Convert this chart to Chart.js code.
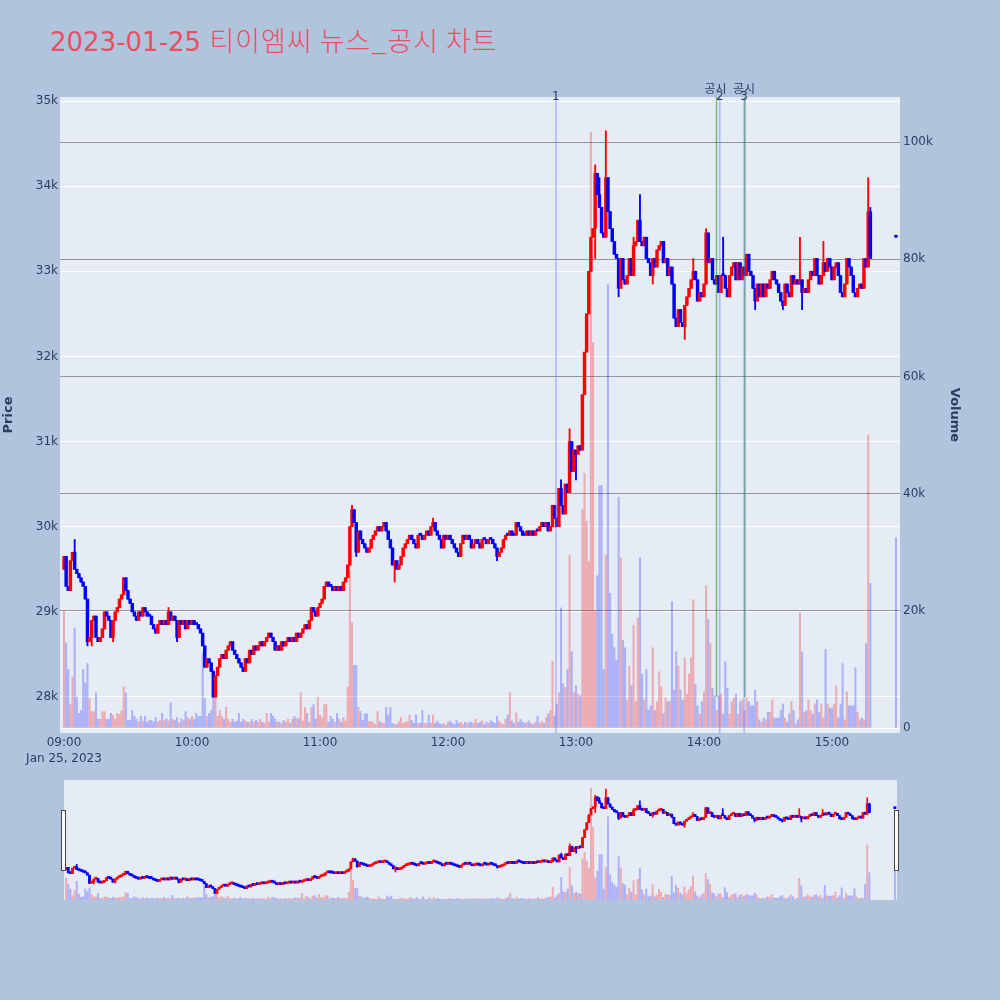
<!DOCTYPE html>
<html>
<head>
<meta charset="utf-8">
<script src="https://cdn.jsdelivr.net/npm/chart.js@4.4.1/dist/chart.umd.min.js"></script>
<style>
  body { margin: 0; background: #B0C4DE; width: 1000px; height: 1000px; overflow: hidden; position: relative; }
  #title { position: absolute; left: 50px; top: 25px; font-size: 26px; line-height: 30px; color: #EB4F62;
           font-family: "DejaVu Sans", "Noto Sans CJK KR", sans-serif; white-space: nowrap; }
  #title .ko { font-family: "Noto Sans CJK KR", sans-serif; font-weight: 300; font-size: 27px; letter-spacing: 1px; }
  #main { position: absolute; left: 0; top: 0; }
  #slider { position: absolute; left: 0; top: 770px; }
</style>
</head>
<body>
<div id="title">2023-01-25 <span class="ko">티이엠씨 뉴스_공시 차트</span></div>
<canvas id="main" width="1000" height="780"></canvas>
<canvas id="slider" width="1000" height="140"></canvas>
<script>
// one candle per minute from 09:00 (minute 0); open = previous close
var firstOpen = 29500;
var closes = [
  29650,29300,29250,29600,29700,29500,29450,29400,29350,29300,
  29150,28650,28700,28900,28950,28700,28650,28700,28800,29000,
  28950,28900,28700,28900,29000,29050,29150,29200,29400,29250,
  29150,29100,29000,28950,28900,29000,28950,29050,29000,28950,
  28950,28850,28800,28750,28850,28900,28850,28900,28850,29000,
  28900,28950,28900,28700,28900,28850,28900,28800,28900,28850,
  28900,28850,28850,28800,28750,28600,28350,28450,28400,28300,
  28000,28250,28350,28450,28500,28450,28550,28600,28650,28550,
  28500,28450,28400,28350,28300,28450,28400,28550,28500,28600,
  28550,28600,28650,28600,28650,28700,28750,28700,28650,28550,
  28600,28550,28650,28600,28650,28700,28650,28700,28650,28750,
  28700,28750,28800,28850,28800,28900,29050,29000,28950,29050,
  29100,29150,29300,29350,29300,29300,29250,29300,29250,29300,
  29250,29350,29400,29550,30000,30200,30050,29700,29950,29850,
  29800,29750,29700,29750,29850,29900,29950,30000,29950,30000,
  30050,29950,29850,29750,29550,29600,29500,29550,29650,29750,
  29800,29850,29900,29850,29800,29750,29900,29900,29850,29900,
  29950,29900,30000,30050,29950,29900,29850,29750,29900,29850,
  29900,29850,29800,29750,29700,29650,29800,29900,29850,29900,
  29850,29750,29800,29850,29800,29750,29850,29850,29800,29850,
  29850,29800,29750,29650,29700,29750,29850,29900,29900,29950,
  29900,29900,30050,30000,29950,29900,29900,29950,29900,29950,
  29900,29950,29950,30000,30050,30000,30050,29950,30000,30250,
  30100,30000,30450,30250,30150,30500,30400,31000,30650,30900,
  30850,30950,30900,31550,32050,32500,33000,33400,33500,34150,
  33900,33750,33450,33400,34100,33700,33500,33350,33200,33150,
  32800,33150,32900,32850,32950,33150,32950,33300,33350,33600,
  33350,33300,33400,33150,33100,32950,33150,33050,33250,33300,
  33350,33100,33150,32950,33050,32850,32450,32350,32550,32400,
  32350,32600,32700,32800,32900,33000,32900,32650,32750,32700,
  32850,33450,33100,33150,32900,32850,32950,32750,32950,32950,
  32800,32700,32950,33050,33100,32900,33100,32900,33050,32950,
  33200,33000,32950,32800,32650,32850,32700,32850,32700,32850,
  32800,32900,33000,32900,32850,32750,32650,32600,32850,32750,
  32700,32950,32850,32900,32850,32900,32750,32800,32750,32900,
  33000,32950,33150,32950,32850,32950,33100,33000,33150,33050,
  32900,33050,33100,32950,32750,32700,32850,33150,33050,32950,
  32750,32700,32800,32850,32800,33150,33050,33700,33150
];
// volume per minute, thousands of shares
var volumesK = [
  20,14.5,10,4,8.7,17,5.3,2.5,3,10,
  7.7,11,5,2.8,2.8,6,1.5,1.5,2.8,2.8,
  1.5,1.5,2.5,2.2,1.5,2.5,2.3,3,7,6,
  1.3,1.3,3,2,1.5,1,2,1.2,2,1,
  1.3,1.3,1,1.8,1,1.3,2.5,1.3,1.6,1.2,
  4.3,1.5,1.3,1.8,0.9,1.6,1.3,2.8,1.8,1.5,
  2,1.5,2.5,2,2,12.8,5,2,2.5,3,
  10,6.5,2,3,2,1.5,3.5,1.5,1,1.5,
  1,1.2,2.5,1,1.5,1.2,1,1,1.5,1,
  1.3,1,1.5,1,0.8,2.5,1,2.5,2,1.5,
  1,1,0.8,1.3,1,1.5,0.8,1.5,2,1.6,
  1.6,6,1.2,3.5,2.5,1,3.5,4,1.5,5.2,
  2.2,1.8,4,4,1,2,1.5,1,2.5,1.5,
  1,1.8,1.2,7,27,18,10.7,10.7,3.5,2.8,
  1.3,2.4,2.4,1.1,1.1,0.9,0.6,2.8,1.1,0.9,
  0.8,3.5,2.2,3.5,0.8,0.6,0.6,1.1,1.8,0.8,
  1,1.1,2.2,1.3,0.8,2.2,0.8,0.8,3,0.8,
  0.8,2.2,0.8,2.2,0.8,1.2,0.8,0.6,0.8,0.5,
  1,1.2,0.8,0.6,1.3,0.8,1,0.6,1,0.8,
  1,1,0.8,1.5,0.8,1,1.2,0.6,1,0.8,
  1.3,1,0.8,2,1.2,0.8,0.6,1.5,2.2,6,
  1.2,0.8,2.6,1,1.5,1,0.8,1,1.2,0.8,
  0.6,1,2,0.8,1.2,0.8,1.8,2.4,3,11.4,
  2,4,6,20.5,7.5,6.9,10,29.5,13,6,
  7.2,5.8,5.5,37.3,43.5,35.3,28.4,101.7,65.8,20,
  26,41.3,41.4,10,29.5,75.7,23,16,13.7,11.6,
  39.4,29,15,13.7,4.8,10.6,7.2,17.5,4.5,18.8,
  29,9.2,4.8,10,3,3.8,13.7,3,4.5,9.6,
  7,2.4,5.1,4.5,4.5,21.6,6.5,13,10.6,6.5,
  4.8,12,5.8,9.2,12,21.9,7.5,3.8,2.4,4.5,
  6.2,24.3,18.5,14.4,6.8,5.5,3,5.5,5.8,2.4,
  11.3,6.8,2.4,4.5,5.1,5.8,2.4,4.5,4.8,3,
  5.1,4.5,3.8,3.8,6.5,4.5,1.4,1,1.7,1.4,
  2.7,2.7,4.8,1.7,1.7,1.7,3,4.1,1.7,1,
  2.4,4.5,3,0.7,1.4,19.7,13,2.7,3,4.8,
  3,2.4,4.1,4.8,2.7,4.1,1.7,13.4,4.1,3.4,
  3.4,4.1,7.2,1.7,4.1,11,1.4,6.2,3.8,3.8,
  3.8,10.3,2.7,1.4,1.7,1.4,14.4,50,24.7
];
// wick extremes beyond the bodies (minute, price)
var wickMinutes = [5,11,13,23,49,53,135,137,155,173,203,233,237,240,249,249,251,254,260,267,270,276,291,295,301,309,324,337,345,346,356,377,378];
var wickPrices  = [29850,28600,28600,28650,29050,28650,30250,29650,29350,30100,29600,30550,31150,30550,34250,33150,34100,34650,32700,33400,33900,32850,32200,33150,33500,33400,32550,32550,33400,32550,33350,34100,33750];
// closing auction 15:30
var auctionMinute = 390, auctionPrice = 33400, auctionVolumeK = 32.5;

var hourTicks = [0, 60, 120, 180, 240, 300, 360];
var hourLabels = ['09:00', '10:00', '11:00', '12:00', '13:00', '14:00', '15:00'];
var dateLabel = 'Jan 25, 2023';
var priceTicks = [28000, 29000, 30000, 31000, 32000, 33000, 34000, 35000];
var volumeTicks = [0, 20000, 40000, 60000, 80000, 100000];
var eventMinutes = [230.6, 307.4, 318.8];
var eventLabels = ['1', '2', '3'];
var noticeMinutes = [305.9, 319.2];
var noticeLabels = ['공시', '공시'];

var UP = '#FF0000', DOWN = '#0000FF';
var UP_VOL = 'rgba(255,0,0,0.28)', DOWN_VOL = 'rgba(0,0,255,0.25)';
var FONT = '"DejaVu Sans", "Noto Sans CJK KR", sans-serif';
var TEXT = '#2a3f5f';

var candles = closes.map(function (c, i) {
  var o = i === 0 ? firstOpen : closes[i - 1];
  return { m: i, o: o, c: c, h: Math.max(o, c), l: Math.min(o, c), v: volumesK[i] * 1000 };
});
wickMinutes.forEach(function (m, k) {
  candles[m].h = Math.max(candles[m].h, wickPrices[k]);
  candles[m].l = Math.min(candles[m].l, wickPrices[k]);
});
candles.push({ m: auctionMinute, o: auctionPrice, c: auctionPrice, h: auctionPrice, l: auctionPrice, v: auctionVolumeK * 1000 });

function isUp(d) { return d.c > d.o; }

function makeDatasets(bodyW, wickW, volW) {
  return [
    {
      label: 'body', yAxisID: 'y', order: 1, grouped: false, barThickness: bodyW, minBarLength: 2,
      data: candles.map(function (d) { return { x: d.m, y: [Math.min(d.o, d.c), Math.max(d.o, d.c)] }; }),
      backgroundColor: candles.map(function (d) { return isUp(d) ? UP : DOWN; })
    },
    {
      label: 'wick', yAxisID: 'y', order: 2, grouped: false, barThickness: wickW, minBarLength: 1,
      data: candles.map(function (d) { return { x: d.m, y: [d.l, d.h] }; }),
      backgroundColor: candles.map(function (d) { return isUp(d) ? UP : DOWN; })
    },
    {
      label: 'Volume', yAxisID: 'y1', order: 3, grouped: false, barThickness: volW,
      data: candles.map(function (d) { return { x: d.m, y: d.v }; }),
      backgroundColor: candles.map(function (d) { return isUp(d) ? UP_VOL : DOWN_VOL; })
    }
  ];
}

var plotBg = {
  id: 'plotBg',
  beforeDraw: function (chart) {
    var a = chart.chartArea, c = chart.ctx;
    c.save();
    c.fillStyle = '#E5ECF6';
    c.fillRect(a.left, a.top, a.right - a.left, a.bottom - a.top);
    c.restore();
  }
};

var eventLines = {
  id: 'eventLines',
  afterDatasetsDraw: function (chart) {
    var c = chart.ctx, a = chart.chartArea, x = chart.scales.x, y = chart.scales.y;
    c.save();
    c.lineWidth = 1.5;
    c.strokeStyle = 'rgba(0,128,0,0.5)';
    noticeMinutes.forEach(function (m) {
      var px = x.getPixelForValue(m);
      c.beginPath(); c.moveTo(px, a.top); c.lineTo(px, y.getPixelForValue(28000)); c.stroke();
    });
    c.strokeStyle = 'rgba(110,110,255,0.45)';
    eventMinutes.forEach(function (m) {
      var px = x.getPixelForValue(m);
      c.beginPath(); c.moveTo(px, a.top); c.lineTo(px, a.bottom); c.stroke();
    });
    c.fillStyle = TEXT;
    c.font = '12px ' + FONT;
    c.textAlign = 'center';
    c.textBaseline = 'middle';
    noticeLabels.forEach(function (t, i) { c.fillText(t, x.getPixelForValue(noticeMinutes[i]) - 1, a.top - 7); });
    eventLabels.forEach(function (t, i) { c.fillText(t, x.getPixelForValue(eventMinutes[i]), a.top); });
    c.restore();
  }
};

new Chart(document.getElementById('main'), {
  type: 'bar',
  data: { datasets: makeDatasets(2.8, 1.2, 1.4) },
  plugins: [plotBg, eventLines],
  options: {
    responsive: false, animation: false, events: [],
    layout: { padding: { top: 97, right: 34, left: 0, bottom: 0 } },
    plugins: { legend: { display: false }, tooltip: { enabled: false } },
    scales: {
      x: {
        type: 'linear', min: -1.875, max: 391.9, offset: false,
        grid: { display: false, drawTicks: false }, border: { display: false },
        afterBuildTicks: function (s) { s.ticks = hourTicks.map(function (v) { return { value: v }; }); },
        afterFit: function (s) { s.height = 47; },
        ticks: {
          autoSkip: false, maxRotation: 0, padding: 2, color: TEXT, font: { family: FONT, size: 12, lineHeight: 1.35 },
          callback: function (v, i) { return i === 0 ? [hourLabels[0], dateLabel] : hourLabels[i]; }
        }
      },
      y: {
        position: 'left', min: 27577, max: 35047,
        grid: { color: '#ffffff', lineWidth: 1, drawTicks: false }, border: { display: false },
        afterBuildTicks: function (s) { s.ticks = priceTicks.map(function (v) { return { value: v }; }); },
        afterFit: function (s) { s.width = 60; },
        ticks: { padding: 2, color: TEXT, font: { family: FONT, size: 12 },
                 callback: function (v) { return (v / 1000) + 'k'; } },
        title: { display: true, text: 'Price', color: TEXT, padding: { top: 1, bottom: 0 },
                 font: { family: FONT, size: 13, weight: 'bold' } }
      },
      y1: {
        position: 'right', min: -853, max: 107700,
        grid: { drawTicks: false, lineWidth: 1,
                color: function (ctx) { return ctx.tick && ctx.tick.value === 0 ? '#ffffff' : 'rgba(90,90,90,0.6)'; } },
        border: { display: false },
        afterBuildTicks: function (s) { s.ticks = volumeTicks.map(function (v) { return { value: v }; }); },
        afterFit: function (s) { s.width = 66; },
        ticks: { padding: 3, color: TEXT, font: { family: FONT, size: 12 },
                 callback: function (v) { return v === 0 ? '0' : (v / 1000) + 'k'; } },
        title: { display: true, text: 'Volume', color: TEXT, padding: { top: 4, bottom: 0 },
                 font: { family: FONT, size: 13, weight: 'bold' } }
      }
    }
  }
});

var sliderHandles = {
  id: 'sliderHandles',
  afterDraw: function (chart) {
    var c = chart.ctx, a = chart.chartArea;
    c.save();
    c.fillStyle = '#ffffff';
    c.strokeStyle = '#444444';
    c.lineWidth = 1;
    [a.left - 2, a.right - 2].forEach(function (px) {
      c.fillRect(px - 0.5, a.top + 30.5, 4, 60);
      c.strokeRect(px - 0.5, a.top + 30.5, 4, 60);
    });
    c.restore();
  }
};

new Chart(document.getElementById('slider'), {
  type: 'bar',
  data: { datasets: makeDatasets(2.2, 1, 1.3) },
  plugins: [plotBg, sliderHandles],
  options: {
    responsive: false, animation: false, events: [],
    layout: { padding: { top: 10, bottom: 10, left: 64, right: 103 } },
    plugins: { legend: { display: false }, tooltip: { enabled: false } },
    scales: {
      x: { type: 'linear', min: -1, max: 391, offset: false, display: false },
      y: { min: 27564, max: 35231, display: false },
      y1: { min: 0, max: 109000, display: false }
    }
  }
});
</script>
</body>
</html>
